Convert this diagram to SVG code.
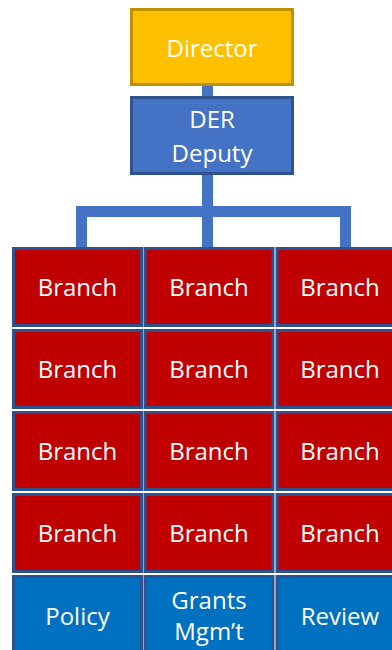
<svg xmlns="http://www.w3.org/2000/svg" width="392" height="650" viewBox="0 0 392 650">
  <style>
    text { font-family: "Open Sans", "Liberation Sans", sans-serif; font-size: 24px; fill: #ffffff; text-anchor: middle; }
    .branch { fill: #C00000; stroke: #2F528F; stroke-width: 3; }
    .unit { fill: #0070C0; stroke: #2F528F; stroke-width: 3; }
    .conn { fill: #4472C4; }
  </style>
  <rect width="392" height="650" fill="#ffffff"/>

  <!-- connectors -->
  <g id="connectors">
    <rect class="conn" x="202" y="86" width="11" height="10"/>
    <rect class="conn" x="202" y="175" width="11" height="73"/>
    <rect class="conn" x="76" y="206" width="275" height="11"/>
    <rect class="conn" x="76" y="206" width="11" height="42"/>
    <rect class="conn" x="340" y="206" width="11" height="42"/>
  </g>

  <g id="director">
    <rect x="131.5" y="9.5" width="161" height="75" fill="#FFC000" stroke="#BF9000" stroke-width="3"/>
    <text x="212" y="57">Director</text>
  </g>

  <g id="deputy">
    <rect x="131.5" y="97.5" width="161" height="76" fill="#4472C4" stroke="#2F528F" stroke-width="3"/>
    <text x="212" y="128">DER</text>
    <text x="212" y="162">Deputy</text>
  </g>

  <!-- branch grid: 4 rows x 3 columns -->
  <g id="branch-r1c1"><rect class="branch" x="13.5" y="248.5" width="128" height="77"/><text x="77.5" y="296">Branch</text></g>
  <g id="branch-r1c2"><rect class="branch" x="145" y="248.5" width="128" height="77"/><text x="209" y="296">Branch</text></g>
  <g id="branch-r1c3"><rect class="branch" x="277" y="248.5" width="128" height="77"/><text x="340" y="296">Branch</text></g>

  <g id="branch-r2c1"><rect class="branch" x="13.5" y="330.5" width="128" height="77"/><text x="77.5" y="378">Branch</text></g>
  <g id="branch-r2c2"><rect class="branch" x="145" y="330.5" width="128" height="77"/><text x="209" y="378">Branch</text></g>
  <g id="branch-r2c3"><rect class="branch" x="277" y="330.5" width="128" height="77"/><text x="340" y="378">Branch</text></g>

  <g id="branch-r3c1"><rect class="branch" x="13.5" y="412.5" width="128" height="77"/><text x="77.5" y="460">Branch</text></g>
  <g id="branch-r3c2"><rect class="branch" x="145" y="412.5" width="128" height="77"/><text x="209" y="460">Branch</text></g>
  <g id="branch-r3c3"><rect class="branch" x="277" y="412.5" width="128" height="77"/><text x="340" y="460">Branch</text></g>

  <g id="branch-r4c1"><rect class="branch" x="13.5" y="494.5" width="128" height="77"/><text x="77.5" y="542">Branch</text></g>
  <g id="branch-r4c2"><rect class="branch" x="145" y="494.5" width="128" height="77"/><text x="209" y="542">Branch</text></g>
  <g id="branch-r4c3"><rect class="branch" x="277" y="494.5" width="128" height="77"/><text x="340" y="542">Branch</text></g>

  <!-- support units -->
  <g id="policy"><rect class="unit" x="13.5" y="576.5" width="128" height="77"/><text x="77.5" y="625">Policy</text></g>
  <g id="grants"><rect class="unit" x="145" y="576.5" width="128" height="77"/><text x="209" y="609">Grants</text><text x="209" y="640">Mgm’t</text></g>
  <g id="review"><rect class="unit" x="277" y="576.5" width="128" height="77"/><text x="340" y="625">Review</text></g>
</svg>
